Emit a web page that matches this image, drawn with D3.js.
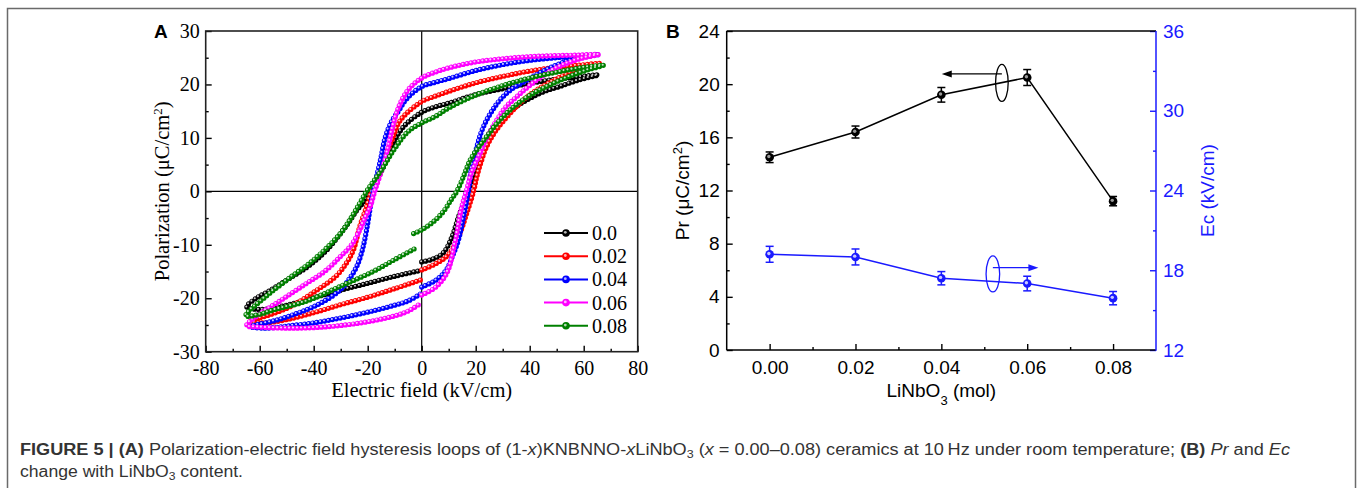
<!DOCTYPE html>
<html>
<head>
<meta charset="utf-8">
<script src="https://cdn.jsdelivr.net/npm/d3@7"></script>
<style>
  body { margin: 0; background: #fff; }
  svg { display: block; }
</style>
</head>
<body>
<svg id="fig" width="1357" height="488"></svg>
<script>
// ---- Panel A data: P-E loops, [E (kV/cm), P (uC/cm2)], starting at E=0 on the rising branch
const compositions = ['0.0', '0.02', '0.04', '0.06', '0.08'];
const loopColors = ['#000000', '#ff0000', '#0000ff', '#ff00ff', '#008000'];

const loop000 = [[0,-13.2],[4,-12.7],[8,-11.5],[11,-8.8],[13.5,-5],[16,-1.6],[18.5,2],[21,5.5],[23,8.3],[26,11.3],[29,13.3],[34,15.5],[39,17.1],[45,18.6],[51,19.6],[58,20.8],[65.4,21.8],
  [58,21.4],[50,21],[40,20.2],[30,19.2],[20,18.1],[10,16.5],[5,15.8],[0,14.8],[-6.7,12.1],[-10.5,9],[-13,5.9],[-16,2.7],[-19.1,0],[-21.5,-2],[-24.1,-3.6],[-28,-6.5],[-35.2,-11],[-42,-14],[-50,-16.6],[-57,-18.8],[-61,-19.9],[-64.8,-21.6],
  [-60,-22.1],[-50,-21.3],[-40,-19.9],[-30,-18.5],[-20,-17.2],[-10,-15.9],[-0.5,-14.8]];
const loop002 = [[0,-14.7],[5,-13.6],[10,-11.8],[14,-8],[16.7,-4.1],[19.2,0],[20.4,2.7],[22,5.5],[24,8.3],[27,11],[30,13],[35,15.8],[39,17.7],[45,19.7],[51,21.3],[58,22.8],[66,23.9],
  [58,23.6],[50,23.2],[40,22.5],[30,21.5],[20,20.3],[10,18.7],[5,17.8],[0,16.8],[-7.9,13.3],[-11,9.6],[-13.5,6.5],[-16,2.7],[-18.6,0],[-20.5,-3],[-22.9,-6.5],[-25.3,-11],[-28,-13.5],[-32,-16],[-38.9,-18.5],[-48.8,-21.6],[-57.5,-23.3],[-63.7,-24.3],
  [-58,-24.6],[-50,-24],[-40,-22.7],[-30,-21.2],[-20,-19.8],[-10,-18.2],[-0.5,-16.6]];
const loop004 = [[0,-17.9],[5,-16.7],[9,-14.8],[11.5,-12],[13.6,-9.1],[15,-6],[16,-3.5],[17.3,0],[18.5,4.6],[20.4,8.3],[22,11],[24,13.3],[26.5,15.4],[29,17.1],[33,19],[38.9,20.8],[45,22.5],[51.2,23.9],[58,24.9],[65.4,25.6],
  [58,25.3],[50,25],[40,24.5],[30,23.7],[20,22.6],[10,21.1],[5,20.4],[0,19.6],[-5.6,17.3],[-8.5,15.1],[-11,13.2],[-13.5,10.1],[-15.3,5.8],[-18,0],[-19.2,-3.5],[-20.4,-7.2],[-22,-11],[-24.1,-14.1],[-27,-16.5],[-30.3,-18.5],[-37.7,-21],[-48.8,-23.3],[-56,-24.4],[-63.7,-25.3],
  [-58,-25.6],[-50,-25.2],[-40,-24.6],[-30,-23.7],[-20,-22.6],[-10,-21.3],[-5,-20.5],[-0.5,-19.2]];
const loop006 = [[0,-19.4],[5,-18],[9.3,-15.3],[12.3,-9.7],[14.8,-3],[16.5,0],[18.5,3.5],[21.6,7.1],[24.5,10.5],[27.8,13.3],[31,15.7],[35.2,17.7],[40,19.8],[46.3,22.1],[52,23.6],[58.6,24.8],[65.4,25.6],
  [58,25.5],[50,25.4],[40,25.2],[30,24.8],[20,24.2],[10,23.1],[5,22.3],[0,21.2],[-5,19],[-8.5,15.8],[-11,11.5],[-12.9,7.1],[-14.8,4],[-17.4,0],[-19.1,-2.9],[-21,-5],[-22.9,-7.2],[-26,-10],[-30.3,-12.3],[-36,-15],[-42.6,-17.2],[-52.5,-20.5],[-61,-23.3],[-64.8,-25.1],
  [-60,-25.4],[-50,-25.6],[-40,-25.5],[-30,-25.1],[-20,-24.4],[-10,-23.3],[-5,-22.4],[-0.5,-21]];
const loop008 = [[-3,-7.9],[0,-7.2],[4.3,-5.7],[8,-3.8],[11,-1.5],[13,0],[15.5,2.8],[18,5.9],[21,8.2],[24,10.2],[28,12.8],[32.7,15.2],[38,17.3],[43.8,19],[50,20.5],[56.2,21.8],[62,22.8],[67.3,23.6],
  [60,23.2],[50,22.3],[40,21.2],[30,19.8],[20,18],[10,15.6],[5,14],[0,12.8],[-5,11.2],[-10,8],[-15,3.9],[-20.4,0],[-25,-4],[-30,-7.8],[-40,-12.8],[-50,-16.6],[-58,-19.8],[-65.2,-23.3],
  [-60,-23],[-55,-22.2],[-43,-20.6],[-30.3,-17.8],[-18,-15],[-10.5,-12.9],[-2.5,-10.7]];
const loops = [loop000, loop002, loop004, loop006, loop008];

const fieldTicks = [-80, -60, -40, -20, 0, 20, 40, 60, 80];
const polTicks = [-30, -20, -10, 0, 10, 20, 30];

// ---- Panel B data
const liContent = [0.00, 0.02, 0.04, 0.06, 0.08];
const prValues = [14.5, 16.4, 19.2, 20.5, 11.2];
const prErrors = [0.4, 0.45, 0.55, 0.6, 0.35];
const ecValues = [19.2, 19.0, 17.4, 17.0, 15.9];
const ecErrors = [0.6, 0.6, 0.5, 0.55, 0.5];
const contentTicks = [0.00, 0.02, 0.04, 0.06, 0.08];
const prTicks = [0, 4, 8, 12, 16, 20, 24];
const ecTicks = [12, 18, 24, 30, 36];

const svg = d3.select('#fig');
const serif = '"Liberation Serif","Times New Roman",serif';
const sans = '"Liberation Sans",Arial,Helvetica,sans-serif';

// outer frame
svg.append('rect')
  .attr('x', 7.5).attr('y', 8.5).attr('width', 1348).attr('height', 520)
  .attr('fill', 'none').attr('stroke', '#6a6a6a').attr('stroke-width', 1.5);

function styleAxis(g, color, size, family) {
  g.select('.domain').remove();
  g.selectAll('.tick line').attr('stroke', color).attr('stroke-width', 1.4);
  g.selectAll('.tick text').attr('fill', color).attr('font-size', size).attr('font-family', family);
}

// ================= Panel A =================
const A = { left: 205.7, right: 637.7, top: 31, bottom: 351.7 };
const xA = d3.scaleLinear().domain([-80, 80]).range([A.left, A.right]);
const yA = d3.scaleLinear().domain([-30, 30]).range([A.bottom, A.top]);
const gA = svg.append('g');

gA.append('g').attr('transform', `translate(0,${A.bottom})`)
  .call(d3.axisBottom(xA).tickValues(d3.range(-70, 80, 20)).tickSize(-3).tickFormat(''))
  .call(g => styleAxis(g, '#000', 20, serif));
gA.append('g').attr('transform', `translate(0,${A.bottom})`)
  .call(d3.axisBottom(xA).tickValues(fieldTicks).tickSize(-6).tickPadding(9).tickFormat(d3.format('d')))
  .call(g => styleAxis(g, '#000', 20, serif));
gA.append('g').attr('transform', `translate(${A.left},0)`)
  .call(d3.axisLeft(yA).tickValues(d3.range(-25, 30, 10)).tickSize(-3).tickFormat(''))
  .call(g => styleAxis(g, '#000', 20, serif));
gA.append('g').attr('transform', `translate(${A.left},0)`)
  .call(d3.axisLeft(yA).tickValues(polTicks).tickSize(-6).tickPadding(6).tickFormat(d3.format('d')))
  .call(g => styleAxis(g, '#000', 20, serif));
// minus sign like the original (hyphen)
gA.selectAll('.tick text').text(function () { return d3.select(this).text().replace('−', '-'); });

// zero lines
gA.append('line').attr('x1', xA(0)).attr('x2', xA(0)).attr('y1', A.top).attr('y2', A.bottom)
  .attr('stroke', '#000').attr('stroke-width', 1.2);
gA.append('line').attr('x1', A.left).attr('x2', A.right).attr('y1', yA(0)).attr('y2', yA(0))
  .attr('stroke', '#000').attr('stroke-width', 1.2);

// loops: thin line + dense ball markers
const loopLine = d3.line().x(d => xA(d[0])).y(d => yA(d[1])).curve(d3.curveCatmullRom.alpha(0.5));
loops.forEach((pts, i) => {
  const g = gA.append('g');
  const d = loopLine(pts);
  g.append('path').attr('d', d).attr('fill', 'none')
    .attr('stroke', loopColors[i]).attr('stroke-width', 1.2);
  g.append('path').attr('d', d).attr('fill', 'none')
    .attr('stroke', loopColors[i]).attr('stroke-width', 5.2)
    .attr('stroke-linecap', 'round').attr('stroke-dasharray', '0 4');
  g.append('path').attr('d', d).attr('fill', 'none')
    .attr('transform', 'translate(-0.6,-0.6)')
    .attr('stroke', '#fff').attr('stroke-opacity', 0.78).attr('stroke-width', 2.1)
    .attr('stroke-linecap', 'round').attr('stroke-dasharray', '0 4');
});

// plot frame
gA.append('rect').attr('x', A.left).attr('y', A.top)
  .attr('width', A.right - A.left).attr('height', A.bottom - A.top)
  .attr('fill', 'none').attr('stroke', '#222').attr('stroke-width', 1.6);

// legend
const legA = gA.append('g').attr('transform', 'translate(544,233)');
compositions.forEach((c, i) => {
  const row = legA.append('g').attr('transform', `translate(0,${i * 23.2})`);
  row.append('line').attr('x1', 0).attr('x2', 44).attr('stroke', loopColors[i]).attr('stroke-width', 2);
  row.append('circle').attr('cx', 22).attr('r', 3.8).attr('fill', loopColors[i]);
  row.append('circle').attr('cx', 21.3).attr('cy', -0.7).attr('r', 1.4).attr('fill', '#fff').attr('fill-opacity', 0.7);
  row.append('text').attr('x', 48).attr('dy', '0.35em')
    .attr('font-family', serif).attr('font-size', 20).text(c);
});

// titles
gA.append('text').attr('x', xA(0)).attr('y', 397).attr('text-anchor', 'middle')
  .attr('font-family', serif).attr('font-size', 20.5).text('Electric field (kV/cm)');
const yTitleA = gA.append('text')
  .attr('transform', `translate(169,${yA(0)}) rotate(-90)`).attr('text-anchor', 'middle')
  .attr('font-family', serif).attr('font-size', 20.5);
yTitleA.append('tspan').text('Polarization (μC/cm');
yTitleA.append('tspan').attr('baseline-shift', 'super').attr('font-size', 13).text('2');
yTitleA.append('tspan').text(')');
gA.append('text').attr('x', 154).attr('y', 38).attr('font-family', sans)
  .attr('font-weight', 'bold').attr('font-size', 19).text('A');

// ================= Panel B =================
const B = { left: 726.7, right: 1156, top: 31, bottom: 350 };
const xB = d3.scaleLinear().domain([-0.01, 0.09]).range([B.left, B.right]);
const yPr = d3.scaleLinear().domain([0, 24]).range([B.bottom, B.top]);
const yEc = d3.scaleLinear().domain([12, 36]).range([B.bottom, B.top]);
const blue = '#1a1aff';
const gB = svg.append('g');

gB.append('g').attr('transform', `translate(0,${B.bottom})`)
  .call(d3.axisBottom(xB).tickValues([0.01, 0.03, 0.05, 0.07]).tickSize(-3).tickFormat(''))
  .call(g => styleAxis(g, '#000', 19, sans));
gB.append('g').attr('transform', `translate(0,${B.bottom})`)
  .call(d3.axisBottom(xB).tickValues(contentTicks).tickSize(-6).tickPadding(11).tickFormat(d3.format('.2f')))
  .call(g => styleAxis(g, '#000', 19, sans));
gB.append('g').attr('transform', `translate(${B.left},0)`)
  .call(d3.axisLeft(yPr).tickValues(d3.range(2, 24, 4)).tickSize(-3).tickFormat(''))
  .call(g => styleAxis(g, '#000', 19, sans));
gB.append('g').attr('transform', `translate(${B.left},0)`)
  .call(d3.axisLeft(yPr).tickValues(prTicks).tickSize(-6).tickPadding(7).tickFormat(d3.format('d')))
  .call(g => styleAxis(g, '#000', 19, sans));
gB.append('g').attr('transform', `translate(${B.right},0)`)
  .call(d3.axisRight(yEc).tickValues(d3.range(15, 36, 6)).tickSize(-3).tickFormat(''))
  .call(g => styleAxis(g, blue, 19, sans));
gB.append('g').attr('transform', `translate(${B.right},0)`)
  .call(d3.axisRight(yEc).tickValues(ecTicks).tickSize(-6).tickPadding(7).tickFormat(d3.format('d')))
  .call(g => styleAxis(g, blue, 19, sans));

// frame lines
gB.append('line').attr('x1', B.left).attr('x2', B.right).attr('y1', B.top).attr('y2', B.top)
  .attr('stroke', '#000').attr('stroke-width', 1.5);
gB.append('line').attr('x1', B.left).attr('x2', B.right).attr('y1', B.bottom).attr('y2', B.bottom)
  .attr('stroke', '#000').attr('stroke-width', 1.5);
gB.append('line').attr('x1', B.left).attr('x2', B.left).attr('y1', B.top).attr('y2', B.bottom)
  .attr('stroke', '#000').attr('stroke-width', 1.5);
gB.append('line').attr('x1', B.right).attr('x2', B.right).attr('y1', B.top).attr('y2', B.bottom + 0.75)
  .attr('stroke', blue).attr('stroke-width', 1.5);

function drawSeries(values, errors, yScale, color, hi) {
  const pts = liContent.map((x, i) => ({ x, v: values[i], e: errors[i] }));
  gB.append('path').datum(pts)
    .attr('d', d3.line().x(d => xB(d.x)).y(d => yScale(d.v)))
    .attr('fill', 'none').attr('stroke', color).attr('stroke-width', 1.5);
  const g = gB.append('g').selectAll('g').data(pts).enter().append('g');
  g.append('line').attr('x1', d => xB(d.x)).attr('x2', d => xB(d.x))
    .attr('y1', d => yScale(d.v - d.e)).attr('y2', d => yScale(d.v + d.e))
    .attr('stroke', color).attr('stroke-width', 1.5);
  [-1, 1].forEach(s => {
    g.append('line').attr('x1', d => xB(d.x) - 4).attr('x2', d => xB(d.x) + 4)
      .attr('y1', d => yScale(d.v + s * d.e)).attr('y2', d => yScale(d.v + s * d.e))
      .attr('stroke', color).attr('stroke-width', 1.5);
  });
  g.append('circle').attr('cx', d => xB(d.x)).attr('cy', d => yScale(d.v)).attr('r', 4.3).attr('fill', color);
  g.append('circle').attr('cx', d => xB(d.x) - 0.8).attr('cy', d => yScale(d.v) - 0.8).attr('r', 1.7).attr('fill', hi);
}
drawSeries(prValues, prErrors, yPr, '#000', '#9a9a9a');
drawSeries(ecValues, ecErrors, yEc, blue, '#c8c8ff');

// ellipse + arrow annotations
gB.append('ellipse').attr('cx', xB(0.0541)).attr('cy', yPr(20.1)).attr('rx', 6.3).attr('ry', 18.5)
  .attr('fill', 'none').attr('stroke', '#000').attr('stroke-width', 1.3);
gB.append('line').attr('x1', xB(0.0541)).attr('x2', xB(0.0415)).attr('y1', yPr(20.77)).attr('y2', yPr(20.77))
  .attr('stroke', '#000').attr('stroke-width', 1.3);
gB.append('path')
  .attr('d', `M${xB(0.0401)},${yPr(20.77)} l10,-3.5 l0,7 Z`).attr('fill', '#000');
gB.append('ellipse').attr('cx', xB(0.052)).attr('cy', yEc(17.72)).attr('rx', 6.8).attr('ry', 18)
  .attr('fill', 'none').attr('stroke', blue).attr('stroke-width', 1.3);
gB.append('line').attr('x1', xB(0.052)).attr('x2', xB(0.061)).attr('y1', yEc(18.19)).attr('y2', yEc(18.19))
  .attr('stroke', blue).attr('stroke-width', 1.3);
gB.append('path')
  .attr('d', `M${xB(0.0626)},${yEc(18.19)} l-10,-3.5 l0,7 Z`).attr('fill', blue);

// titles
const xTitleB = gB.append('text').attr('x', xB(0.04)).attr('y', 397).attr('text-anchor', 'middle')
  .attr('font-family', sans).attr('font-size', 19);
xTitleB.append('tspan').text('LiNbO');
xTitleB.append('tspan').attr('baseline-shift', 'sub').attr('font-size', 13).text('3');
xTitleB.append('tspan').text(' (mol)');
const yTitleB = gB.append('text').attr('transform', `translate(689,${yPr(12)}) rotate(-90)`)
  .attr('text-anchor', 'middle').attr('font-family', sans).attr('font-size', 19);
yTitleB.append('tspan').text('Pr (μC/cm');
yTitleB.append('tspan').attr('baseline-shift', 'super').attr('font-size', 13).text('2');
yTitleB.append('tspan').text(')');
gB.append('text').attr('transform', `translate(1214,${yEc(24)}) rotate(-90)`)
  .attr('text-anchor', 'middle').attr('font-family', sans).attr('font-size', 19)
  .attr('fill', blue).text('Ec (kV/cm)');
gB.append('text').attr('x', 666).attr('y', 38).attr('font-family', sans)
  .attr('font-weight', 'bold').attr('font-size', 19).text('B');

// ================= Caption =================
const cap1 = svg.append('text').attr('x', 20).attr('y', 455)
  .attr('font-family', sans).attr('font-size', 16).attr('fill', '#333')
  .attr('textLength', 1270).attr('lengthAdjust', 'spacingAndGlyphs');
cap1.append('tspan').attr('font-weight', 'bold').text('FIGURE 5 | (A)');
cap1.append('tspan').text(' Polarization-electric field hysteresis loops of (1-');
cap1.append('tspan').attr('font-style', 'italic').text('x');
cap1.append('tspan').text(')KNBNNO-');
cap1.append('tspan').attr('font-style', 'italic').text('x');
cap1.append('tspan').text('LiNbO');
cap1.append('tspan').attr('baseline-shift', '-3').attr('font-size', 11).text('3');
cap1.append('tspan').text(' (');
cap1.append('tspan').attr('font-style', 'italic').text('x');
cap1.append('tspan').text(' = 0.00–0.08) ceramics at 10\u2009Hz under room temperature; ');
cap1.append('tspan').attr('font-weight', 'bold').text('(B)');
cap1.append('tspan').text(' ');
cap1.append('tspan').attr('font-style', 'italic').text('Pr');
cap1.append('tspan').text(' and ');
cap1.append('tspan').attr('font-style', 'italic').text('Ec');

const cap2 = svg.append('text').attr('x', 20).attr('y', 477)
  .attr('font-family', sans).attr('font-size', 16).attr('fill', '#333')
  .attr('textLength', 223).attr('lengthAdjust', 'spacingAndGlyphs');
cap2.append('tspan').text('change with LiNbO');
cap2.append('tspan').attr('baseline-shift', '-3').attr('font-size', 11).text('3');
cap2.append('tspan').text(' content.');
</script>
</body>
</html>
